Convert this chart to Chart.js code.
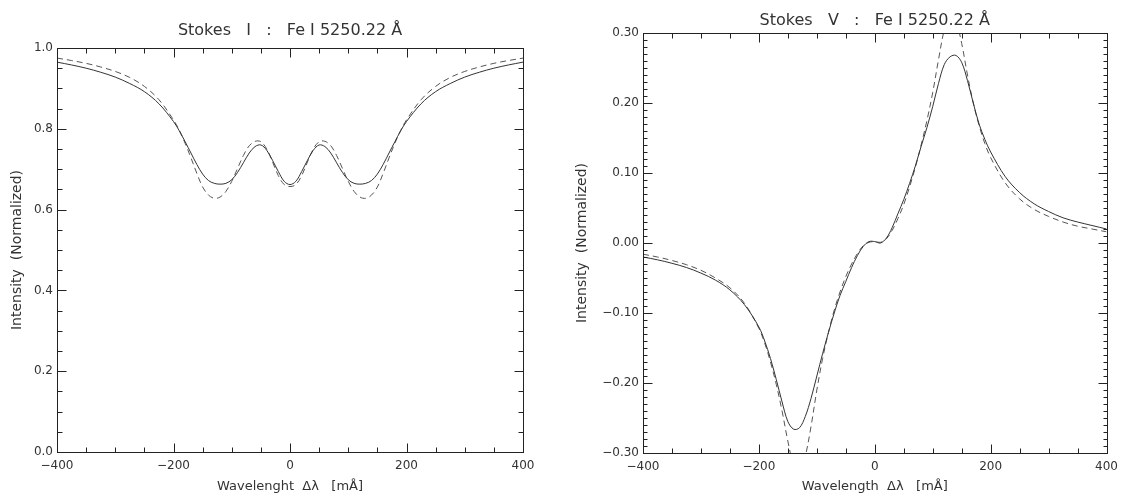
<!DOCTYPE html>
<html lang="en">

<head>
    <meta charset="UTF-8">
    <title>Stokes I / V : Fe I 5250.22</title>
    <script src="https://cdn.jsdelivr.net/npm/chart.js"></script>
    <style>
        body { margin: 0; background: #fff; }
        .painel { position: absolute; top: 0; }
    </style>
</head>

<body>
    <div class="painel" style="left: 0px;"><canvas id="canvas_stokesI" width="560" height="498"></canvas></div>
    <div class="painel" style="left: 560px;"><canvas id="canvas_stokesV" width="565" height="498"></canvas></div>
</body>

</html>
<script>
    // comprimento de onda (mA), o mesmo para os dois paineis
    const wavelengths = [-400, -375, -350, -325, -300, -275, -250, -225,
        -200, -190, -180, -170, -160, -150, -140, -130, -120, -110, -100, -90, -80, -70, -60, -50, -40, -30, -20, -10,
        0,
        10, 20, 30, 40, 50, 60, 70, 80, 90, 100, 110, 120, 130, 140, 150, 160, 170, 180, 190, 200,
        225, 250, 275, 300, 325, 350, 375, 400];

    // Stokes I - observado (linha cheia) e ajuste (tracejado)
    const stokesIObs = [0.965, 0.958, 0.950, 0.940, 0.928, 0.912, 0.892, 0.862,
        0.818, 0.795, 0.768, 0.740, 0.712, 0.688, 0.672, 0.665, 0.663, 0.665, 0.674, 0.692, 0.716, 0.740, 0.756, 0.760, 0.747, 0.722, 0.694, 0.670,
        0.662,
        0.670, 0.694, 0.722, 0.747, 0.760, 0.756, 0.740, 0.716, 0.692, 0.674, 0.665, 0.663, 0.665, 0.672, 0.688, 0.712, 0.740, 0.768, 0.795, 0.818,
        0.862, 0.892, 0.912, 0.928, 0.940, 0.950, 0.958, 0.965];
    const stokesIFit = [0.975, 0.969, 0.962, 0.953, 0.942, 0.927, 0.905, 0.872,
        0.822, 0.796, 0.764, 0.728, 0.690, 0.656, 0.636, 0.628, 0.631, 0.645, 0.670, 0.702, 0.734, 0.758, 0.769, 0.768, 0.750, 0.718, 0.684, 0.662,
        0.657,
        0.662, 0.684, 0.718, 0.750, 0.768, 0.769, 0.758, 0.734, 0.702, 0.670, 0.645, 0.631, 0.628, 0.636, 0.656, 0.690, 0.728, 0.764, 0.796, 0.822,
        0.872, 0.905, 0.927, 0.942, 0.953, 0.962, 0.969, 0.975];

    // Stokes V - observado (linha cheia) e ajuste (tracejado)
    const stokesVObs = [-0.020, -0.024, -0.029, -0.035, -0.043, -0.053, -0.067, -0.088,
        -0.120, -0.140, -0.165, -0.195, -0.227, -0.255, -0.266, -0.264, -0.248, -0.222, -0.190, -0.158, -0.128, -0.100, -0.075, -0.055, -0.035, -0.018, -0.005, 0.002,
        0.002,
        0.000, 0.007, 0.022, 0.042, 0.062, 0.085, 0.110, 0.138, 0.165, 0.195, 0.228, 0.255, 0.266, 0.268, 0.258, 0.232, 0.200, 0.170, 0.148, 0.130,
        0.095, 0.072, 0.056, 0.045, 0.036, 0.030, 0.025, 0.020];
    const stokesVFit = [-0.016, -0.020, -0.025, -0.031, -0.039, -0.050, -0.064, -0.086,
        -0.122, -0.143, -0.170, -0.202, -0.240, -0.283, -0.318, -0.330, -0.305, -0.262, -0.210, -0.165, -0.128, -0.096, -0.070, -0.048, -0.030, -0.015, -0.004, 0.001,
        0.002,
        0.001, 0.006, 0.018, 0.035, 0.055, 0.080, 0.108, 0.140, 0.175, 0.215, 0.262, 0.305, 0.330, 0.318, 0.285, 0.240, 0.200, 0.168, 0.142, 0.122,
        0.086, 0.063, 0.048, 0.038, 0.030, 0.024, 0.020, 0.016];

    // rotulos dos eixos
    const xTicks = [-400, -200, 0, 200, 400];
    const yTicksI = [0.0, 0.2, 0.4, 0.6, 0.8, 1.0];
    const yTicksV = [-0.30, -0.20, -0.10, 0.00, 0.10, 0.20, 0.30];

    const corTexto = '#333';
    const fonte = { family: 'DejaVu Sans', size: 12 };

    function menos(txt) {
        return txt.replace('-', '\u2212');
    }

    function pares(ys) {
        let pts = [];
        for (let i = 0; i < wavelengths.length; i++) {
            pts.push({ x: wavelengths[i], y: ys[i] });
        }
        return pts;
    }

    // moldura com tracinhos para dentro nos quatro lados (estilo IDL)
    const moldura = {
        id: 'moldura',
        afterDraw(chart, args, opts) {
            const { ctx, chartArea: a } = chart;
            const x = chart.scales.x, y = chart.scales.y;
            ctx.save();
            ctx.strokeStyle = '#222';
            ctx.lineWidth = 1;
            const L = Math.round(a.left) + 0.5, R = Math.round(a.right) + 0.5;
            const T = Math.round(a.top) + 0.5, B = Math.round(a.bottom) + 0.5;
            ctx.strokeRect(L, T, R - L, B - T);
            ctx.beginPath();
            let nx = Math.round((x.max - x.min) / opts.xMinor);
            for (let i = 0; i <= nx; i++) {
                const v = x.min + i * opts.xMinor;
                const px = Math.round(x.getPixelForValue(v)) + 0.5;
                const len = (i % opts.xEvery === 0) ? 9 : 5;
                ctx.moveTo(px, B); ctx.lineTo(px, B - len);
                ctx.moveTo(px, T); ctx.lineTo(px, T + len);
            }
            let ny = Math.round((y.max - y.min) / opts.yMinor);
            for (let i = 0; i <= ny; i++) {
                const v = y.min + i * opts.yMinor;
                const py = Math.round(y.getPixelForValue(v)) + 0.5;
                const len = (i % opts.yEvery === 0) ? 9 : opts.yMinorLen;
                ctx.moveTo(L, py); ctx.lineTo(L + len, py);
                ctx.moveTo(R, py); ctx.lineTo(R - len, py);
            }
            ctx.stroke();

            // titulo do painel
            ctx.fillStyle = corTexto;
            ctx.font = '16px "DejaVu Sans"';
            ctx.textAlign = 'center';
            ctx.textBaseline = 'middle';
            ctx.fillText(opts.titulo, (a.left + a.right) / 2, opts.tituloY);
            ctx.restore();
        }
    };

    function criarGrafico(idCanvas, obs, fit, yTicks, cfg) {
        const dados = {
            datasets: [{
                label: 'Observado',
                data: pares(obs),
                borderColor: '#333',
                borderWidth: 1,
                pointRadius: 0,
                tension: 0.35,
                fill: false
            },
            {
                label: 'Ajuste',
                data: pares(fit),
                borderColor: '#555',
                borderWidth: 1,
                borderDash: [6, 4],
                pointRadius: 0,
                tension: 0.35,
                fill: false
            }]
        };

        return new Chart(document.getElementById(idCanvas), {
            type: 'line',
            data: dados,
            plugins: [moldura],
            options: {
                responsive: false,
                animation: false,
                devicePixelRatio: 1,
                layout: { padding: cfg.padding },
                plugins: {
                    legend: { display: false },
                    tooltip: { enabled: false },
                    moldura: cfg.moldura
                },
                scales: {
                    x: {
                        type: 'linear',
                        min: -400,
                        max: 400,
                        afterBuildTicks: function (s) { s.ticks = xTicks.map(v => ({ value: v })); },
                        afterFit: function (s) { s.height = cfg.alturaX; },
                        grid: { display: false, drawTicks: false },
                        border: { display: false },
                        ticks: {
                            padding: 7,
                            color: corTexto,
                            font: fonte,
                            maxRotation: 0,
                            callback: v => menos(String(v))
                        },
                        title: {
                            display: true,
                            text: cfg.tituloX,
                            color: corTexto,
                            font: { family: 'DejaVu Sans', size: 13 },
                            padding: { top: 0, bottom: 4 }
                        }
                    },
                    y: {
                        type: 'linear',
                        min: cfg.yMin,
                        max: cfg.yMax,
                        afterBuildTicks: function (s) { s.ticks = yTicks.map(v => ({ value: v })); },
                        afterFit: function (s) { s.width = cfg.larguraY; },
                        grid: { display: false, drawTicks: false },
                        border: { display: false },
                        ticks: {
                            padding: 4,
                            color: corTexto,
                            font: fonte,
                            callback: v => menos(v.toFixed(cfg.casas))
                        },
                        title: {
                            display: true,
                            text: 'Intensity  (Normalized)',
                            color: corTexto,
                            font: { family: 'DejaVu Sans', size: 14 },
                            padding: { top: cfg.padTituloY, bottom: 0 }
                        }
                    }
                }
            }
        });
    }

    criarGrafico('canvas_stokesI', stokesIObs, stokesIFit, yTicksI, {
        padding: { top: 48, right: 37, left: 0, bottom: 0 },
        yMin: 0, yMax: 1.0, casas: 1,
        larguraY: 57, alturaX: 46, padTituloY: 9,
        tituloX: 'Wavelenght  \u0394\u03bb   [m\u00c5]',
        moldura: { xMinor: 50, xEvery: 4, yMinor: 0.05, yEvery: 4, yMinorLen: 5,
            titulo: 'Stokes   I   :   Fe I 5250.22 \u00c5', tituloY: 31 }
    });

    criarGrafico('canvas_stokesV', stokesVObs, stokesVFit, yTicksV, {
        padding: { top: 33, right: 15, left: 0, bottom: 0 },
        yMin: -0.3, yMax: 0.3, casas: 2,
        larguraY: 83, alturaX: 45, padTituloY: 14,
        tituloX: 'Wavelength  \u0394\u03bb   [m\u00c5]',
        moldura: { xMinor: 50, xEvery: 4, yMinor: 0.01, yEvery: 10, yMinorLen: 4,
            titulo: 'Stokes   V   :   Fe I 5250.22 \u00c5', tituloY: 21 }
    });
</script>
